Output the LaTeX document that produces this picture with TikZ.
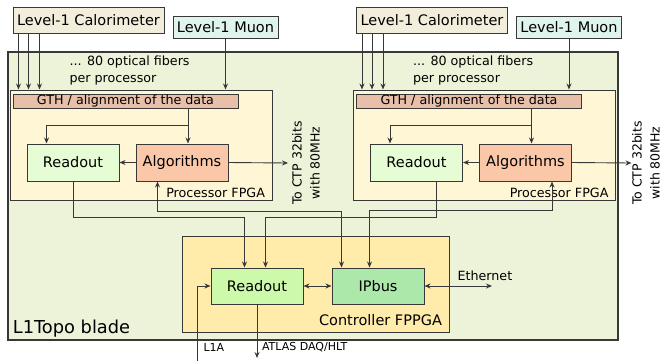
\documentclass[tikz,border=0pt]{standalone}
\usepackage{fontspec}
\setmainfont{DejaVu Sans}
\usetikzlibrary{arrows.meta}
\definecolor{bladefill}{HTML}{ECF3D8}
\definecolor{procfill}{HTML}{FFF6D6}
\definecolor{calfill}{HTML}{F3EEDC}
\definecolor{muonfill}{HTML}{DEF4EC}
\definecolor{gthfill}{HTML}{E8C0AA}
\definecolor{rofill}{HTML}{E6FCD4}
\definecolor{algfill}{HTML}{FAC8A8}
\definecolor{ctrlfill}{HTML}{FFECAA}
\definecolor{crofill}{HTML}{CCFAAA}
\definecolor{ipbfill}{HTML}{ACE8AA}
\definecolor{linegray}{HTML}{383838}
\newcommand\bigtxt{\fontsize{14.5}{17}\selectfont}
\newcommand\midtxt{\fontsize{12.7}{17}\selectfont}
\newcommand\ctptxt{\fontsize{12.5}{18}\selectfont}
\newcommand\smalltxt{\fontsize{11}{13}\selectfont}
\newcommand\bladetxt{\fontsize{17.8}{20}\selectfont}
\begin{document}
\begin{tikzpicture}
[x=1pt,y=-1pt,
  box/.style={draw=linegray,line width=1pt,inner sep=0pt,font=\bigtxt},
  arr/.style={-{Stealth[length=6pt,width=5pt]},line width=0.9pt,draw=linegray},
  dar/.style={{Stealth[length=6pt,width=5pt]}-{Stealth[length=6pt,width=5pt]},line width=0.9pt,draw=linegray}]
\useasboundingbox (0,0) rectangle (663,360);
%% blade
\node (blade) at (313,196) [box,line width=1.3pt,fill=bladefill,minimum width=610pt,minimum height=288pt] {};
\node [anchor=base west,font=\bladetxt] at ([xshift=2pt,yshift=7pt]blade.south west) {L1Topo blade};
%% the two processors
\foreach \p/\dx/\tx in {L/0/306, R/343.5/646} {
  \node (cal\p) at (88.5+\dx,20) [box,fill=calfill,minimum width=151pt,minimum height=26pt] {Level-1 Calorimeter};
  \node (muon\p) at (225.5+\dx,27) [box,fill=muonfill,minimum width=105pt,minimum height=22pt] {Level-1 Muon};
  \node (proc\p) at (141+\dx,145) [box,fill=procfill,minimum width=262pt,minimum height=110pt] {};
  \node (gth\p) at (125.5+\dx,101) [box,fill=gthfill,font=\midtxt,minimum width=225pt,minimum height=14pt] {GTH / alignment of the data};
  \node (ro\p) at (73+\dx,162.5) [box,fill=rofill,minimum width=92pt,minimum height=37pt] {Readout};
  \node (alg\p) at (182+\dx,162.5) [box,fill=algfill,minimum width=92pt,minimum height=37pt] {Algorithms};
  \node [anchor=base east,font=\midtxt] at ([xshift=-4pt,yshift=3pt]proc\p.south east) {Processor FPGA};
  \node [anchor=west,align=left,font=\midtxt] at (66+\dx,70.5) {... 80 optical fibers\\per processor};
  \node (ctptext\p) at (\tx,163) [rotate=90,align=center,font=\ctptxt] {To CTP 32bits\\with 80MHz};
  \coordinate (ctp\p) at (288+\dx,163);
  \coordinate (sp\p) at (188+\dx,125);
  %% edges
  \foreach \off in {6,16,27} {
    \draw[arr] ([xshift=\off pt]cal\p.south west) -- ([xshift=\off pt]cal\p.south west |- proc\p.north);
  }
  \draw[arr] (muon\p.south) -- (muon\p.south |- proc\p.north);
  \draw[arr] (gth\p.south -| sp\p) -- (alg\p.north -| sp\p);
  \draw[arr] (sp\p) -| ([xshift=20pt]ro\p.north west);
  \draw[arr] (alg\p.west) -- (ro\p.east);
  \draw[arr] (alg\p.east) -- (ctp\p);
}
%% controller
\node (ctrl) at (315.5,284) [box,fill=ctrlfill,minimum width=267pt,minimum height=96pt] {};
\node [anchor=base east,font=\bigtxt] at ([xshift=-4pt,yshift=7pt]ctrl.south east) {Controller FPPGA};
\node (cro) at (257,286) [box,fill=crofill,minimum width=92pt,minimum height=36pt] {Readout};
\node (ipbus) at (378,286) [box,fill=ipbfill,minimum width=92pt,minimum height=36pt] {IPbus};
\coordinate (eth) at (492,286);
\coordinate (l1a) at (197,362);
\coordinate (daq) at (257,358);
\node [anchor=base west,font=\midtxt] at (454,280) {Ethernet};
\node [anchor=base west,font=\smalltxt] at (200,351.5) {L1A};
\node [anchor=base west,font=\smalltxt] at (258.5,350.5) {ATLAS DAQ/HLT};
%% edges to and from the controller
\draw[arr] (roL.south) -- ++(0,36) -| ([xshift=34pt]cro.north west);
\draw[arr] ([xshift=20pt]roR.south) -- ++(0,36) -| ([xshift=55pt]cro.north west);
\draw[dar] ([xshift=10pt]ipbus.north west) -- ++(0,-56) -| ([xshift=22pt]algL.south west);
\draw[dar] ([xshift=38pt]ipbus.north west) -- ++(0,-57) -| ([xshift=73pt]algR.south west);
\draw[dar] (cro.east) -- (ipbus.west);
\draw[dar] (ipbus.east) -- (eth);
\draw[arr] (l1a) |- (cro.west);
\draw[arr] (cro.south) -- (daq);
\end{tikzpicture}
\end{document}
